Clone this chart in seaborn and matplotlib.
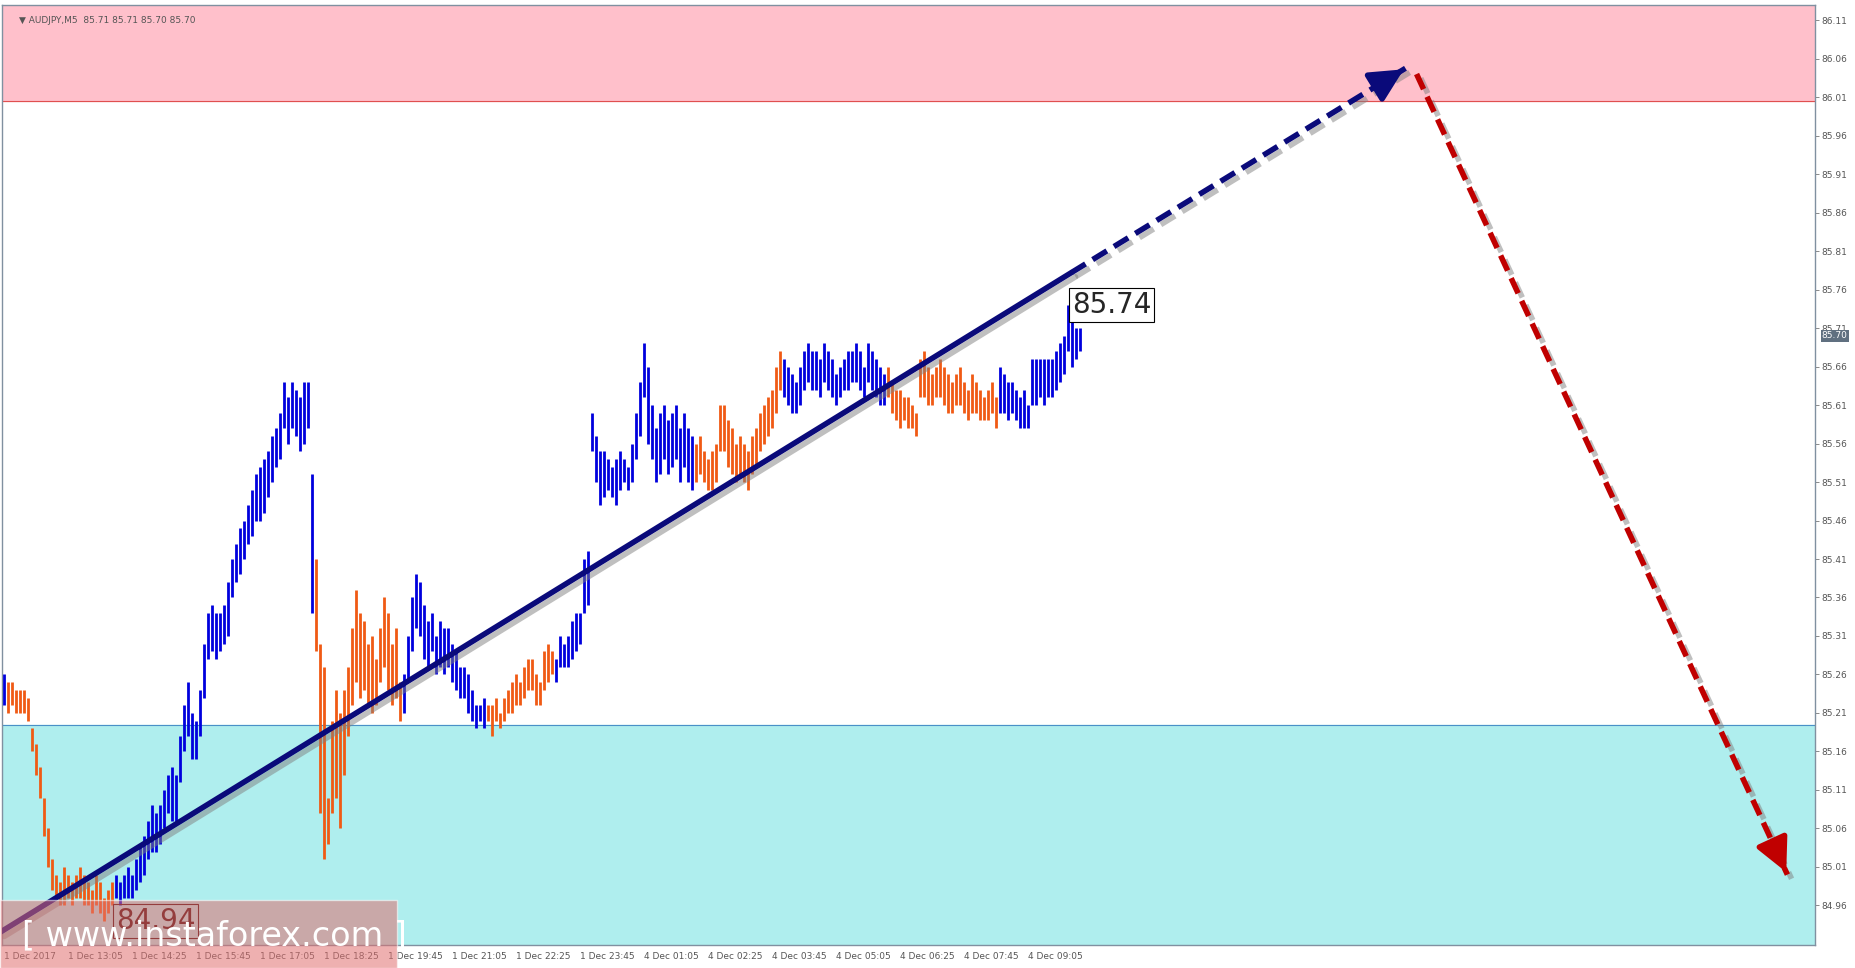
import numpy as np
import pandas as pd
import matplotlib
matplotlib.use("Agg")
import matplotlib.pyplot as plt
import matplotlib.patheffects as pe
import seaborn as sns

# AUDJPY M5 bars, high / low
highs = [
    85.26, 85.25, 85.25, 85.24, 85.24, 85.24, 85.23, 85.19, 85.17, 85.14,
    85.10, 85.06, 85.02, 85.00, 84.99, 85.01, 85.00, 84.99, 85.00, 85.01,
    85.00, 84.99, 84.98, 85.00, 84.99, 84.97, 84.98, 84.99, 85.00, 84.99,
    85.00, 85.01, 85.00, 85.02, 85.04, 85.05, 85.07, 85.09, 85.08, 85.09,
    85.11, 85.13, 85.14, 85.13, 85.18, 85.22, 85.25, 85.21, 85.20, 85.24,
    85.30, 85.34, 85.35, 85.34, 85.34, 85.35, 85.38, 85.41, 85.43, 85.45,
    85.46, 85.48, 85.50, 85.52, 85.53, 85.54, 85.55, 85.57, 85.58, 85.60,
    85.64, 85.62, 85.64, 85.63, 85.62, 85.64, 85.64, 85.52, 85.41, 85.30,
    85.27, 85.10, 85.20, 85.24, 85.21, 85.24, 85.27, 85.32, 85.37, 85.34,
    85.33, 85.30, 85.31, 85.28, 85.32, 85.36, 85.34, 85.30, 85.32, 85.25,
    85.26, 85.31, 85.36, 85.39, 85.38, 85.35, 85.33, 85.34, 85.31, 85.33,
    85.32, 85.32, 85.30, 85.29, 85.27, 85.27, 85.26, 85.24, 85.22, 85.22,
    85.23, 85.22, 85.22, 85.23, 85.21, 85.23, 85.24, 85.25, 85.26, 85.25,
    85.27, 85.28, 85.28, 85.26, 85.25, 85.29, 85.30, 85.29, 85.28, 85.31,
    85.30, 85.31, 85.33, 85.34, 85.34, 85.41, 85.42, 85.60, 85.57, 85.55,
    85.55, 85.54, 85.53, 85.54, 85.55, 85.54, 85.53, 85.56, 85.60, 85.64,
    85.69, 85.66, 85.61, 85.58, 85.60, 85.61, 85.59, 85.60, 85.61, 85.58,
    85.60, 85.58, 85.57, 85.56, 85.57, 85.55, 85.54, 85.55, 85.56, 85.61,
    85.61, 85.59, 85.58, 85.56, 85.57, 85.56, 85.55, 85.57, 85.58, 85.60,
    85.61, 85.62, 85.63, 85.66, 85.68, 85.67, 85.66, 85.65, 85.64, 85.66,
    85.68, 85.69, 85.68, 85.68, 85.67, 85.69, 85.68, 85.67, 85.65, 85.66,
    85.67, 85.68, 85.68, 85.69, 85.68, 85.66, 85.69, 85.68, 85.67, 85.66,
    85.65, 85.66, 85.64, 85.63, 85.63, 85.62, 85.62, 85.61, 85.60, 85.67,
    85.68, 85.66, 85.65, 85.66, 85.67, 85.66, 85.65, 85.64, 85.65, 85.66,
    85.64, 85.63, 85.65, 85.64, 85.63, 85.62, 85.63, 85.64, 85.62, 85.66,
    85.65, 85.64, 85.64, 85.63, 85.62, 85.63, 85.61, 85.67, 85.67, 85.67,
    85.67, 85.67, 85.67, 85.68, 85.69, 85.70, 85.74, 85.74, 85.71, 85.71,
]
lows = [
    85.22, 85.21, 85.22, 85.21, 85.21, 85.21, 85.20, 85.16, 85.13, 85.10,
    85.05, 85.01, 84.98, 84.97, 84.96, 84.96, 84.97, 84.96, 84.97, 84.97,
    84.96, 84.96, 84.95, 84.96, 84.95, 84.94, 84.95, 84.96, 84.97, 84.96,
    84.97, 84.97, 84.97, 84.98, 84.99, 85.00, 85.02, 85.03, 85.03, 85.04,
    85.06, 85.08, 85.07, 85.07, 85.12, 85.16, 85.18, 85.15, 85.15, 85.18,
    85.23, 85.28, 85.29, 85.28, 85.29, 85.30, 85.31, 85.36, 85.38, 85.39,
    85.41, 85.43, 85.44, 85.46, 85.46, 85.47, 85.49, 85.51, 85.53, 85.54,
    85.58, 85.56, 85.58, 85.57, 85.55, 85.56, 85.58, 85.34, 85.29, 85.08,
    85.02, 85.04, 85.08, 85.10, 85.06, 85.13, 85.18, 85.22, 85.25, 85.23,
    85.24, 85.22, 85.21, 85.22, 85.25, 85.27, 85.24, 85.22, 85.23, 85.20,
    85.21, 85.25, 85.29, 85.32, 85.31, 85.28, 85.27, 85.29, 85.26, 85.27,
    85.26, 85.27, 85.25, 85.24, 85.23, 85.23, 85.21, 85.20, 85.19, 85.20,
    85.19, 85.20, 85.18, 85.20, 85.19, 85.20, 85.21, 85.21, 85.22, 85.22,
    85.23, 85.24, 85.24, 85.22, 85.22, 85.24, 85.25, 85.26, 85.25, 85.27,
    85.27, 85.27, 85.28, 85.29, 85.30, 85.34, 85.35, 85.55, 85.51, 85.48,
    85.49, 85.50, 85.49, 85.48, 85.50, 85.51, 85.50, 85.51, 85.54, 85.57,
    85.62, 85.56, 85.54, 85.51, 85.52, 85.54, 85.52, 85.53, 85.54, 85.51,
    85.53, 85.51, 85.50, 85.51, 85.52, 85.51, 85.50, 85.50, 85.51, 85.55,
    85.55, 85.53, 85.52, 85.51, 85.52, 85.51, 85.50, 85.52, 85.53, 85.55,
    85.56, 85.57, 85.58, 85.60, 85.63, 85.62, 85.61, 85.60, 85.60, 85.61,
    85.63, 85.64, 85.63, 85.63, 85.62, 85.64, 85.63, 85.62, 85.61, 85.62,
    85.63, 85.63, 85.64, 85.64, 85.63, 85.62, 85.64, 85.63, 85.62, 85.61,
    85.61, 85.62, 85.60, 85.59, 85.58, 85.59, 85.58, 85.58, 85.57, 85.62,
    85.62, 85.61, 85.61, 85.62, 85.62, 85.61, 85.60, 85.60, 85.61, 85.61,
    85.60, 85.59, 85.60, 85.60, 85.59, 85.59, 85.59, 85.60, 85.58, 85.60,
    85.60, 85.59, 85.60, 85.59, 85.58, 85.58, 85.58, 85.61, 85.61, 85.62,
    85.61, 85.62, 85.62, 85.63, 85.64, 85.65, 85.68, 85.66, 85.67, 85.68,
]
# colour runs (b = blue wave, o = orange wave)
color_runs = [("b", 1), ("o", 27), ("b", 50), ("o", 22), ("b", 21), ("o", 17),
              ("b", 35), ("o", 22), ("b", 26), ("o", 28), ("b", 21)]

time_labels = ["1 Dec 2017", "1 Dec 13:05", "1 Dec 14:25", "1 Dec 15:45", "1 Dec 17:05",
               "1 Dec 18:25", "1 Dec 19:45", "1 Dec 21:05", "1 Dec 22:25", "1 Dec 23:45",
               "4 Dec 01:05", "4 Dec 02:25", "4 Dec 03:45", "4 Dec 05:05", "4 Dec 06:25",
               "4 Dec 07:45", "4 Dec 09:05"]
price_ticks = [86.11, 86.06, 86.01, 85.96, 85.91, 85.86, 85.81, 85.76, 85.71, 85.66,
               85.61, 85.56, 85.51, 85.46, 85.41, 85.36, 85.31, 85.26, 85.21, 85.16,
               85.11, 85.06, 85.01, 84.96]

# forecast lines (bar index, price)
trend_x = [-0.9, 266.9]
trend_y = [84.925, 85.782]
trend_ext_x = [266.9, 350.6]
trend_ext_y = [85.782, 86.048]
down_x = [353.2, 445.9]
down_y = [86.04, 85.00]

resist_lo, support_hi = 86.005, 85.195
y_lo, y_hi = 84.908, 86.13

BLUE = "#0000dd"
ORANGE = "#f05a14"
NAVY = "#0a0a7a"
DRED = "#c00000"

colors = []
for c, n in color_runs:
    colors += [c] * n
df = pd.DataFrame({"i": np.arange(len(highs)), "high": highs, "low": lows, "wave": colors})

sns.set_style("white")
plt.rcParams["font.family"] = ["DejaVu Sans"]

fig = plt.figure(figsize=(18.56, 9.68), dpi=100)
ax = fig.add_axes([0.0013, 0.0233, 0.9764, 0.9718])
ax.set_xlim(-0.3, 452.7)
ax.set_ylim(y_lo, y_hi)

ax.axhspan(resist_lo, y_hi + 1, color="#ffc0cb", zorder=0)
ax.axhline(resist_lo, color="#e05050", lw=0.8, zorder=1)
ax.axhspan(y_lo - 1, support_hi, color="#afeeee", zorder=0)
ax.axhline(support_hi, color="#4a90c8", lw=0.8, zorder=1)

for wave, col in [("b", BLUE), ("o", ORANGE)]:
    sub = df[df["wave"] == wave]
    ax.vlines(sub["i"], sub["low"], sub["high"], color=col, lw=2.0, zorder=3)

shadow = [pe.SimpleLineShadow(offset=(3, -3), shadow_color="gray", alpha=0.5), pe.Normal()]
sns.lineplot(x=trend_x, y=trend_y, ax=ax, color=NAVY, lw=4, zorder=5,
             path_effects=shadow)
ax.plot(trend_ext_x, trend_ext_y, color=NAVY, lw=4, ls=(0, (3, 1.5)), zorder=5,
        path_effects=shadow)
ax.plot(down_x, down_y, color=DRED, lw=4, ls=(0, (3, 1.5)), zorder=5,
        path_effects=shadow)

def head(x0, y0, x1, y1, col):
    f = 0.96
    ax.annotate("", xy=(x1, y1), xytext=(x0 + f * (x1 - x0), y0 + f * (y1 - y0)),
                arrowprops=dict(arrowstyle="-|>,head_length=1.0,head_width=0.5",
                                color=col, lw=4, mutation_scale=20), zorder=6)

head(trend_ext_x[0], trend_ext_y[0], trend_ext_x[1], trend_ext_y[1], NAVY)
head(down_x[0], down_y[0], down_x[1], down_y[1], DRED)

# high / low labels
ax.text(267, 85.74, "85.74", fontsize=20, va="center", ha="left", zorder=7,
        bbox=dict(facecolor="white", edgecolor="black", pad=2, lw=0.8))
ax.text(28, 84.94, "84.94", fontsize=20, va="center", ha="left", color="#3a0000", zorder=7,
        bbox=dict(facecolor="none", edgecolor="#3a0000", pad=2, lw=0.8))

# axes styling
ax.yaxis.tick_right()
ax.set_yticks(price_ticks)
ax.set_yticklabels([f"{p:.2f}" for p in price_ticks], fontsize=6.5, color="#555555")
ax.set_xticks(np.arange(len(time_labels)) * 16)
ax.set_xticklabels(time_labels, fontsize=6.5, color="#555555", ha="left")
ax.tick_params(axis="both", length=3, width=0.6, color="#777777", pad=2)
for s in ax.spines.values():
    s.set_color("#8090a0")
    s.set_linewidth(1.0)

ax.text(0.009, 0.988, "\u25bc AUDJPY,M5  85.71 85.71 85.70 85.70", transform=ax.transAxes,
        fontsize=6.5, color="#555555", va="top")
ax.text(1.004, (85.70 - y_lo) / (y_hi - y_lo), "85.70", transform=ax.transAxes,
        fontsize=6.5, color="white", va="center", ha="left",
        bbox=dict(facecolor="#607080", edgecolor="none", pad=1))

# watermark band
fig.patches.append(plt.Rectangle((0, 0), 335 / 1567, 57 / 817, transform=fig.transFigure,
                                 facecolor="#e07070", alpha=0.55, zorder=10))
fig.text(0.012, 0.033, "[ www.instaforex.com ]", fontsize=24, color="white",
         va="center", ha="left", zorder=11)

fig.savefig("out.png", dpi=100)
